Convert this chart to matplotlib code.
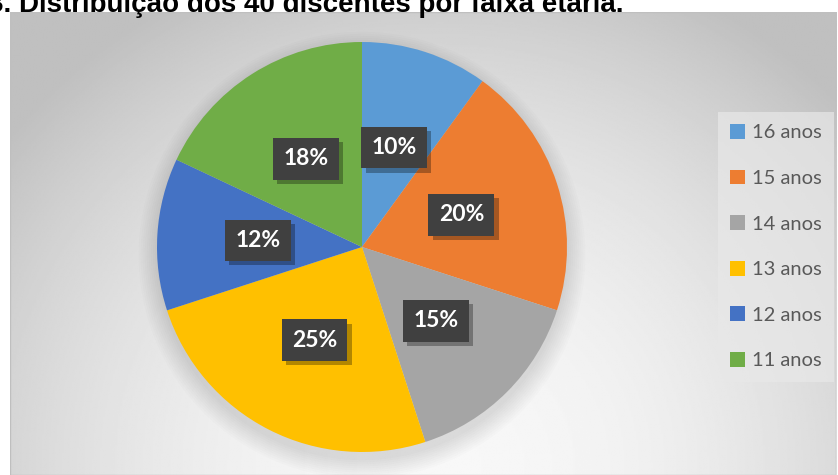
"""Pie chart: distribuicao dos discentes por faixa etaria"""

import numpy as np
import matplotlib
matplotlib.use("Agg")
import matplotlib.pyplot as plt
import matplotlib.patheffects as pe
from matplotlib.patches import Circle, Rectangle

# data
faixas = ["16 anos", "15 anos", "14 anos", "13 anos", "12 anos", "11 anos"]
percentuais = [10, 20, 15, 25, 12, 18]
cores = ["#5B9BD5", "#ED7D31", "#A5A5A5", "#FFC000", "#4472C4", "#70AD47"]
titulo = "3. Distribuição dos 40 discentes por faixa etária."

W, H = 838, 475
fig = plt.figure(figsize=(W / 100, H / 100), dpi=100)
fig.patch.set_facecolor("white")

# chart area with radial gradient background
bg = fig.add_axes([10 / W, 0, 826 / W, 463 / H])
bg.set_axis_off()
yy, xx = np.mgrid[0:1:300j, 0:1:500j]
r2 = ((xx - 0.52) / 0.7) ** 2 + ((yy - 0.02) / 1.2) ** 2
grad = np.clip(0.97 - 0.24 * r2, 0.75, 1.0)
bg.imshow(grad, cmap="gray", vmin=0, vmax=1, extent=[0, 1, 0, 1],
          aspect="auto", interpolation="bilinear")
bg.add_patch(Rectangle((0, 0), 1, 1, transform=bg.transAxes, fill=False,
                       edgecolor="#bfbfbf", lw=1.0))
bg.set_xlim(0, 1)
bg.set_ylim(1, 0)

# pie
ax = fig.add_axes([157 / W, (H - 452) / H, 410 / W, 410 / H])
ax.set_axis_off()

# soft shadow under the pie
for k in range(10):
    ax.add_patch(Circle((0, -0.04), 1.0 + 0.01 * k, color="black",
                        alpha=0.012, lw=0, zorder=0, clip_on=False))

wedges, _ = ax.pie(percentuais, colors=cores, startangle=90, counterclock=False,
                   radius=1.0, wedgeprops=dict(linewidth=0))
ax.set_xlim(-1, 1)
ax.set_ylim(-1, 1)

angulo = 90.0
for p in percentuais:
    meio = np.deg2rad(angulo - p * 3.6 / 2)
    angulo -= p * 3.6
    t = ax.text(0.51 * np.cos(meio), 0.51 * np.sin(meio), f"{p}%",
                ha="center", va="center", color="white", fontsize=16.5,
                fontweight="bold", family=["Lato", "DejaVu Sans"], zorder=5,
                bbox=dict(boxstyle="square,pad=0.45", facecolor="#404040",
                          edgecolor="none"))
    t.get_bbox_patch().set_path_effects(
        [pe.withSimplePatchShadow(offset=(3, -3), shadow_rgbFace="black",
                                  alpha=0.3), pe.Normal()])

# legend
leg = fig.legend(wedges, faixas, loc="upper left",
                 bbox_to_anchor=(718 / W, 1 - 112 / H),
                 frameon=True, fancybox=False, handlelength=0.75,
                 handleheight=0.75, handletextpad=0.35, labelspacing=1.4,
                 borderpad=0.6, borderaxespad=0,
                 prop=dict(family="Lato", size=14.5))
leg.get_frame().set_facecolor("#e8e8e8")
leg.get_frame().set_edgecolor("none")
leg.get_frame().set_alpha(0.7)
for txt in leg.get_texts():
    txt.set_color("#595959")

# title, cut at the top edge like the source
fig.text(-12 / W, 1 - 12 / H, titulo, ha="left", va="baseline",
         fontsize=20, fontweight="bold", family="Liberation Sans",
         color="black")

fig.savefig("out.png", dpi=100)
